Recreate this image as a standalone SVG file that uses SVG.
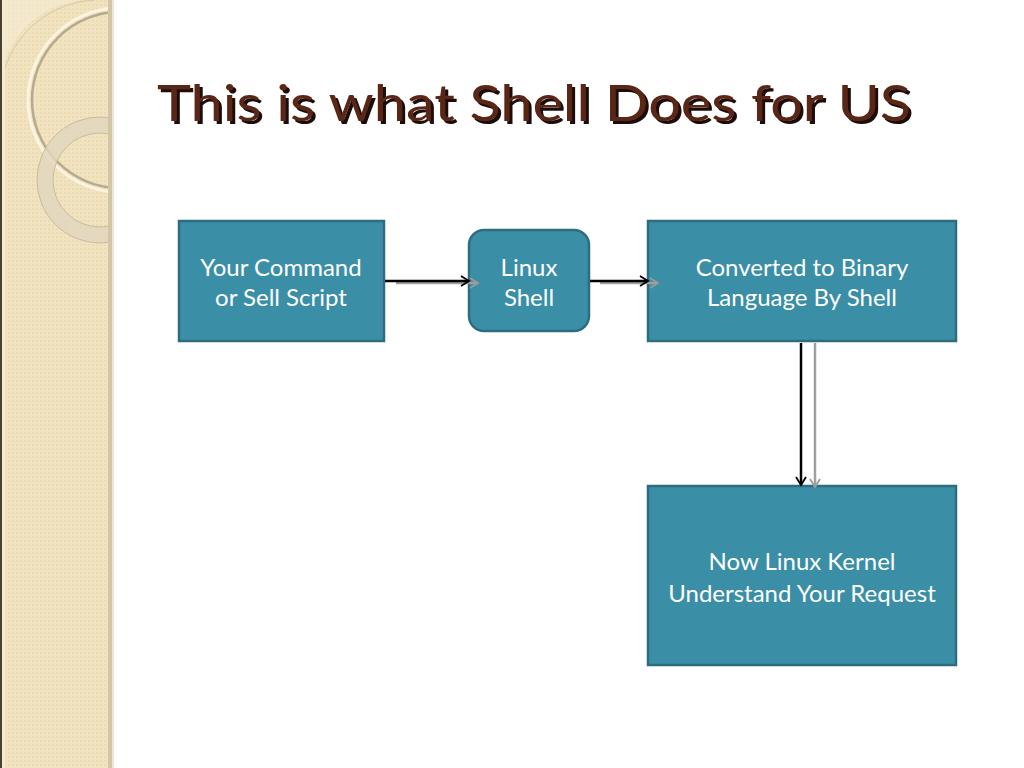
<svg xmlns="http://www.w3.org/2000/svg" width="1024" height="768" viewBox="0 0 1024 768">
<defs>
<style>
.box{fill:#3A8EA6;stroke:#2C6E80;stroke-width:2.5}
.lbl{font-family:Lato,"Open Sans",sans-serif;font-size:24px;fill:#FFFFFF;text-anchor:middle}
.title{font-family:Lato,"Liberation Sans",sans-serif;font-size:50px;fill:#5A2817}
.con{stroke:#000;stroke-width:2.5;fill:none}
.ghost{stroke:#A0A0A0;stroke-width:2.5;fill:none}
</style>
<filter id="shadow" x="-5%" y="-20%" width="110%" height="140%">
<feDropShadow dx="3" dy="3" stdDeviation="0.4" flood-color="#1E0F08" flood-opacity="1"/>
</filter>
<marker id="ah" markerWidth="12" markerHeight="12" refX="10" refY="6" orient="auto" markerUnits="userSpaceOnUse">
<path d="M2,1 L10,6 L2,11" fill="none" stroke="#000" stroke-width="1.8"/>
</marker>
<marker id="ahg" markerWidth="12" markerHeight="12" refX="10" refY="6" orient="auto" markerUnits="userSpaceOnUse">
<path d="M2,1 L10,6 L2,11" fill="none" stroke="#9A9A9A" stroke-width="1.8"/>
</marker>
<pattern id="dots" width="4" height="4" patternUnits="userSpaceOnUse">
<rect width="4" height="4" fill="#F1E3BF"/>
<rect width="2" height="2" fill="#EBDAB2"/>
</pattern>
<clipPath id="band"><rect x="0" y="0" width="112" height="768"/></clipPath>
</defs>
<rect width="1024" height="768" fill="#FFFFFF"/>
<g id="sidebar">
<rect x="0" y="0" width="112" height="768" fill="url(#dots)"/>
<g clip-path="url(#band)">
<path d="M0,0 L95,0 A90,90 0 0 0 0,92 Z" fill="#F5EBD3" opacity="0.7"/>
<path d="M0,92 A100,100 0 0 1 95,0" fill="none" stroke="#D8C9A6" stroke-width="1"/>
<circle cx="120" cy="100" r="92" fill="none" stroke="#FBF4E2" stroke-width="3"/>
<circle cx="120" cy="100" r="88" fill="none" stroke="#B5A98F" stroke-width="2.5"/>
<circle cx="100" cy="180" r="55" fill="none" stroke="#E2D6BD" stroke-width="16" opacity="0.85"/>
<circle cx="100" cy="180" r="63" fill="none" stroke="#C9BC9E" stroke-width="1"/>
<circle cx="100" cy="180" r="47" fill="none" stroke="#C9BC9E" stroke-width="1"/>
</g>
<rect x="0" y="0" width="2" height="768" fill="#4A3F33"/>
<rect x="2" y="0" width="3" height="768" fill="#F7EBCF"/>
<rect x="108" y="0" width="4" height="768" fill="#D3C6A6"/>
<rect x="112" y="0" width="2" height="768" fill="#ECE6DA"/>
</g>
<g id="title">
<text x="157" y="121" class="title" filter="url(#shadow)" textLength="754" lengthAdjust="spacingAndGlyphs">This is what Shell Does for US</text>
</g>
<g id="node-command">
<rect class="box" x="179" y="221" width="205" height="120"/>
<text class="lbl" x="281" y="276">Your Command</text>
<text class="lbl" x="281" y="306">or Sell Script</text>
</g>
<g id="node-shell">
<rect class="box" x="469" y="230" width="120" height="101" rx="15" ry="15"/>
<text class="lbl" x="529" y="276">Linux</text>
<text class="lbl" x="529" y="306">Shell</text>
</g>
<g id="node-binary">
<rect class="box" x="648" y="221" width="308" height="120"/>
<text class="lbl" x="802" y="276">Converted to Binary</text>
<text class="lbl" x="802" y="306">Language By Shell</text>
</g>
<g id="node-kernel">
<rect class="box" x="648" y="486" width="308" height="179"/>
<text class="lbl" x="802" y="570">Now Linux Kernel</text>
<text class="lbl" x="802" y="602">Understand Your Request</text>
</g>
<g id="connectors">
<line class="ghost" x1="396" y1="283" x2="478" y2="283" marker-end="url(#ahg)"/>
<line class="con" x1="385" y1="281" x2="469" y2="281" marker-end="url(#ah)"/>
<line class="ghost" x1="600" y1="283" x2="658" y2="283" marker-end="url(#ahg)"/>
<line class="con" x1="590" y1="281" x2="648" y2="281" marker-end="url(#ah)"/>
<line class="ghost" x1="815" y1="343" x2="815" y2="487" marker-end="url(#ahg)"/>
<line class="con" x1="801" y1="343" x2="801" y2="485" marker-end="url(#ah)"/>
</g>
</svg>
